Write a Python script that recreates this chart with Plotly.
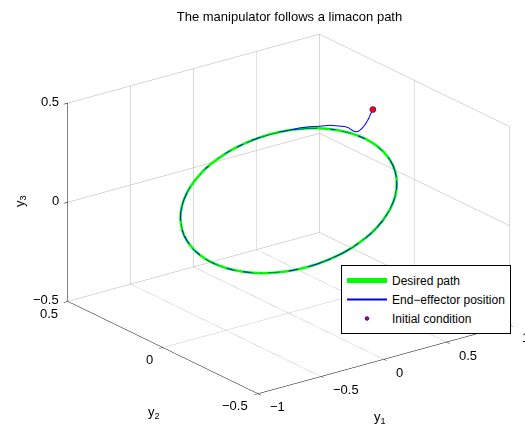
import plotly.graph_objects as go

# Desired limacon path (task-space coordinates y1, y2, y3), one loop in 5-degree steps
path_y1 = [0.860, 0.857, 0.847, 0.831, 0.808, 0.779, 0.745, 0.705, 0.659, 0.608,
           0.553, 0.493, 0.430, 0.363, 0.294, 0.223, 0.149, 0.075, 0.000, -0.075,
           -0.149, -0.223, -0.294, -0.363, -0.430, -0.493, -0.553, -0.608, -0.659, -0.705,
           -0.745, -0.779, -0.808, -0.831, -0.847, -0.857, -0.860, -0.857, -0.847, -0.831,
           -0.808, -0.779, -0.745, -0.705, -0.659, -0.608, -0.553, -0.493, -0.430, -0.363,
           -0.294, -0.223, -0.149, -0.075, 0.000, 0.075, 0.149, 0.223, 0.294, 0.363,
           0.430, 0.493, 0.553, 0.608, 0.659, 0.705, 0.745, 0.779, 0.808, 0.831,
           0.847, 0.857, 0.860]
path_y2 = [0.0] * 73
path_y3 = [0.004, 0.035, 0.067, 0.098, 0.129, 0.160, 0.190, 0.219, 0.247, 0.274,
           0.298, 0.322, 0.343, 0.362, 0.379, 0.394, 0.406, 0.415, 0.422, 0.426,
           0.428, 0.426, 0.422, 0.415, 0.406, 0.394, 0.379, 0.363, 0.344, 0.322,
           0.299, 0.274, 0.248, 0.220, 0.191, 0.161, 0.130, 0.099, 0.067, 0.036,
           0.005, -0.026, -0.056, -0.085, -0.113, -0.140, -0.164, -0.188, -0.209, -0.228,
           -0.245, -0.260, -0.272, -0.281, -0.288, -0.292, -0.294, -0.292, -0.288, -0.281,
           -0.272, -0.260, -0.245, -0.229, -0.210, -0.188, -0.165, -0.140, -0.114, -0.086,
           -0.057, -0.027, 0.004]

# End-effector transient from the initial condition until it reaches the path
trans_y1 = [0.669, 0.655, 0.635, 0.612, 0.583, 0.557, 0.536, 0.510, 0.478, 0.447,
            0.413, 0.330, 0.243, 0.160, 0.086]
trans_y3 = [0.411, 0.395, 0.370, 0.348, 0.330, 0.321, 0.321, 0.331, 0.351, 0.363,
            0.371, 0.390, 0.400, 0.412, 0.419]

# After the transient the end effector tracks one full lap of the path
JOIN = 18  # index of the path sample where tracking begins
ee_y1 = trans_y1 + path_y1[JOIN:] + path_y1[1:JOIN + 1]
ee_y3 = trans_y3 + path_y3[JOIN:] + path_y3[1:JOIN + 1]
ee_y2 = [0.0] * len(ee_y1)

init_y1 = [0.669]
init_y2 = [0.0]
init_y3 = [0.411]

y1_ticks = [-1, -0.5, 0, 0.5, 1]
y2_ticks = [-0.5, 0, 0.5]
y3_ticks = [-0.5, 0, 0.5]

Y1_RANGE = [-1, 1]
Y2_RANGE = [-0.5, 0.5]
Y3_RANGE = [-0.5, 0.5]


def fmt(v):
    return ("\u2212" if v < 0 else "") + ("%g" % abs(v))


FONT = "Liberation Sans, Arial, Helvetica, sans-serif"
TXT = dict(size=13, family=FONT, color="black")

fig = go.Figure()
fig.add_trace(go.Scatter3d(
    x=path_y1, y=path_y2, z=path_y3, mode="lines",
    line=dict(color="rgb(0,255,0)", width=5), name="Desired path"))
fig.add_trace(go.Scatter3d(
    x=ee_y1, y=ee_y2, z=ee_y3, mode="lines",
    line=dict(color="rgb(0,0,255)", width=2), name="End\u2212effector position"))
fig.add_trace(go.Scatter3d(
    x=init_y1, y=init_y2, z=init_y3, mode="markers",
    marker=dict(color="red", size=3.5, line=dict(color="blue", width=1)),
    name="Initial condition"))


def axis(rng, vals):
    return dict(
        title=dict(text=""),
        range=rng, tickvals=vals, showticklabels=False,
        showgrid=True, gridcolor="rgb(178,178,178)", gridwidth=1,
        zeroline=False, showline=True, linecolor="black", linewidth=1,
        ticks="outside", ticklen=5, tickcolor="black",
        showbackground=False, showspikes=False, autorange=False,
    )


# Tick labels and axis titles, anchored on the box edges that carry the axes
x_lo, x_hi = Y1_RANGE
y_lo, y_hi = Y2_RANGE
z_lo, z_hi = Y3_RANGE
notes = []
for v in y1_ticks:
    notes.append(dict(x=v, y=y_lo, z=z_lo, text=fmt(v), xanchor="left",
                      yanchor="middle", xshift=10, yshift=-13))
for v in y2_ticks:
    notes.append(dict(x=x_lo, y=v, z=z_lo, text=fmt(v), xanchor="right",
                      yanchor="middle", xshift=-8, yshift=-12))
for v in y3_ticks:
    notes.append(dict(x=x_lo, y=y_hi, z=v, text=fmt(v), xanchor="right",
                      yanchor="middle", xshift=-7, yshift=2))
notes.append(dict(x=0, y=y_lo, z=z_lo, text="y<sub>1</sub>", xanchor="center",
                  yanchor="middle", xshift=-4, yshift=-58))
notes.append(dict(x=x_lo, y=0, z=z_lo, text="y<sub>2</sub>", xanchor="center",
                  yanchor="middle", xshift=-9, yshift=-65))
notes.append(dict(x=x_lo, y=y_hi, z=0, text="y<sub>3</sub>", xanchor="center",
                  yanchor="middle", xshift=-48, yshift=1, textangle=-90))
for n in notes:
    n.update(showarrow=False, font=TXT)

# view direction (azimuth ~37 deg, elevation ~21 deg), shifted so the box sits right of centre
SHIFT = (-0.098, 0.073, 0.0)
EYE = (-1.118, -1.489, 0.730)

fig.update_layout(
    width=525, height=428, margin=dict(l=0, r=0, t=0, b=0),
    paper_bgcolor="white", plot_bgcolor="white",
    font=dict(family=FONT, size=13, color="black"),
    title=dict(text="The manipulator follows a limacon path",
               x=0.5514, y=0.9626, xanchor="center", yanchor="middle",
               font=TXT),
    scene=dict(
        domain=dict(x=[0.0, 1.0], y=[0.0, 1.0]),
        aspectmode="manual", aspectratio=dict(x=1.47, y=1.48, z=0.995),
        camera=dict(eye=dict(x=EYE[0] + SHIFT[0], y=EYE[1] + SHIFT[1], z=EYE[2] + SHIFT[2]),
                    up=dict(x=0, y=0, z=1),
                    center=dict(x=SHIFT[0], y=SHIFT[1], z=SHIFT[2]),
                    projection=dict(type="orthographic")),
        xaxis=axis(Y1_RANGE, y1_ticks),
        yaxis=axis(Y2_RANGE, y2_ticks),
        zaxis=axis(Y3_RANGE, y3_ticks),
        annotations=notes,
    ),
    legend=dict(x=0.6495, y=0.3808, xanchor="left", yanchor="top",
                bordercolor="black", borderwidth=1, bgcolor="white",
                itemwidth=40,
                font=dict(size=12, family=FONT, color="black")),
    showlegend=True,
)

fig.write_html("out.html", config={"displayModeBar": False})
